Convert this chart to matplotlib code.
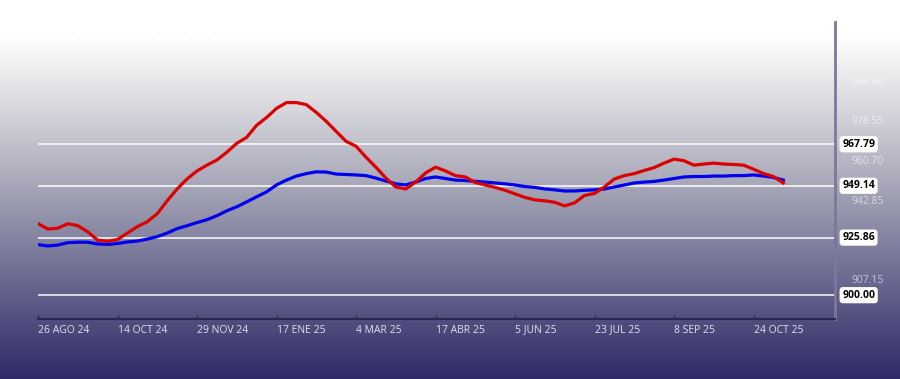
import matplotlib.pyplot as plt
import numpy as np
from matplotlib.colors import LinearSegmentedColormap

plt.rcParams['font.family'] = ['Open Sans', 'DejaVu Sans']

# x tick labels (one every 8 samples)
fechas = ['26 AGO 24', '14 OCT 24', '29 NOV 24', '17 ENE 25', '4 MAR 25',
          '17 ABR 25', '5 JUN 25', '23 JUL 25', '8 SEP 25', '24 OCT 25']

# red series
serie_roja = [932.1, 929.7, 930.1, 932.1, 931.2, 928.5, 924.7, 924.2, 925.0, 927.9,
              930.8, 933.0, 936.6, 942.4, 947.7, 952.2, 955.8, 958.4, 960.7, 964.2,
              968.2, 970.9, 976.3, 979.8, 983.9, 986.5, 986.5, 985.6, 982.1, 978.1,
              973.6, 969.1, 966.9, 962.0, 957.5, 952.6, 948.6, 947.7, 950.8, 954.9,
              957.5, 955.8, 953.7, 953.1, 950.6, 949.5, 948.4, 947.1, 945.5, 943.9,
              942.8, 942.4, 941.7, 940.1, 941.5, 944.8, 945.7, 948.6, 952.2, 953.7,
              954.6, 956.0, 957.3, 959.3, 961.1, 960.4, 958.4, 958.9, 959.3, 958.9,
              958.7, 958.4, 956.6, 954.6, 953.3, 950.4]

# blue series
serie_azul = [922.7, 922.1, 922.5, 923.6, 923.8, 923.8, 923.0, 922.8, 923.2, 923.9,
              924.3, 925.2, 926.3, 927.9, 929.9, 931.2, 932.6, 933.9, 935.7, 937.9,
              939.7, 941.9, 944.2, 946.4, 949.5, 951.7, 953.5, 954.6, 955.4, 955.3,
              954.4, 954.2, 954.0, 953.7, 952.6, 951.3, 950.0, 949.5, 950.8, 952.4,
              953.1, 952.4, 951.7, 951.5, 951.1, 950.8, 950.4, 950.0, 949.5, 948.8,
              948.4, 947.7, 947.3, 946.8, 946.8, 947.1, 947.3, 947.7, 948.6, 949.5,
              950.4, 950.8, 951.1, 951.7, 952.4, 953.1, 953.3, 953.3, 953.5, 953.5,
              953.7, 953.7, 954.0, 953.5, 952.9, 951.7]

niveles = [967.79, 949.14, 925.86, 900.00]
ticks_y = [907.15, 942.85, 960.70, 978.55, 996.40, 1014.25]

fig = plt.figure(figsize=(9, 3.79), dpi=100)

# background gradient
bg = fig.add_axes([0, 0, 1, 1], zorder=0)
cmap = LinearSegmentedColormap.from_list('fondo', [
    (0.0, '#ffffff'), (0.09, '#ffffff'), (0.16, '#f2f2f3'), (0.28, '#d8d8de'),
    (0.5, '#a4a4b6'), (0.78, '#615f8a'), (1.0, '#2f2a66')])
bg.imshow(np.linspace(0, 1, 256).reshape(-1, 1), aspect='auto', cmap=cmap,
          extent=[0, 1, 0, 1])
bg.axis('off')

fig.text(53 / 900, 1 - 35 / 379, 'Dólar estadounidense vs Peso chileno',
         color='white', fontsize=14, fontweight='bold', va='center')

ax = fig.add_axes([38 / 900, 60 / 379, 797 / 900, 297 / 379], zorder=1)
ax.patch.set_alpha(0)

x = np.arange(len(serie_azul))
for n in niveles:
    ax.axhline(n, color='white', lw=1.2, alpha=0.9, zorder=1)
ax.plot(x, serie_azul, color='#0000ee', lw=2.3, zorder=3)
ax.plot(x, serie_roja, color='#dd0000', lw=2.3, zorder=4)

ax.set_xlim(0, 80.2)
ax.set_ylim(889.30, 1022.7)

ax.set_xticks(np.arange(len(fechas)) * 8)
ax.set_xticklabels(fechas, ha='left')
ax.tick_params(axis='x', direction='in', length=3, width=1, color='#2a2850',
               labelcolor='#e0e0ee', labelsize=7.5, pad=4)

ax.yaxis.tick_right()
ax.set_yticks(ticks_y)
ax.set_yticklabels([f'{t:.2f}' for t in ticks_y])
ax.tick_params(axis='y', length=0, labelsize=7.5, pad=12)
for lab in ax.get_yticklabels():
    lab.set_color((1, 1, 1, 0.6))

for n in niveles:
    ax.text(1.009, n, f'{n:.2f}', transform=ax.get_yaxis_transform(),
            fontsize=7.5, fontweight='bold', color='black', va='center', ha='left',
            bbox=dict(boxstyle='round,pad=0.25,rounding_size=0.3', fc='white', ec='none'))

for s in ['left', 'top']:
    ax.spines[s].set_visible(False)
ax.spines['bottom'].set_color('#2a2850')
ax.spines['bottom'].set_linewidth(1.5)
ax.spines['right'].set_color('#7a7a98')
ax.spines['right'].set_linewidth(2)

fig.savefig('out.png', dpi=100)
